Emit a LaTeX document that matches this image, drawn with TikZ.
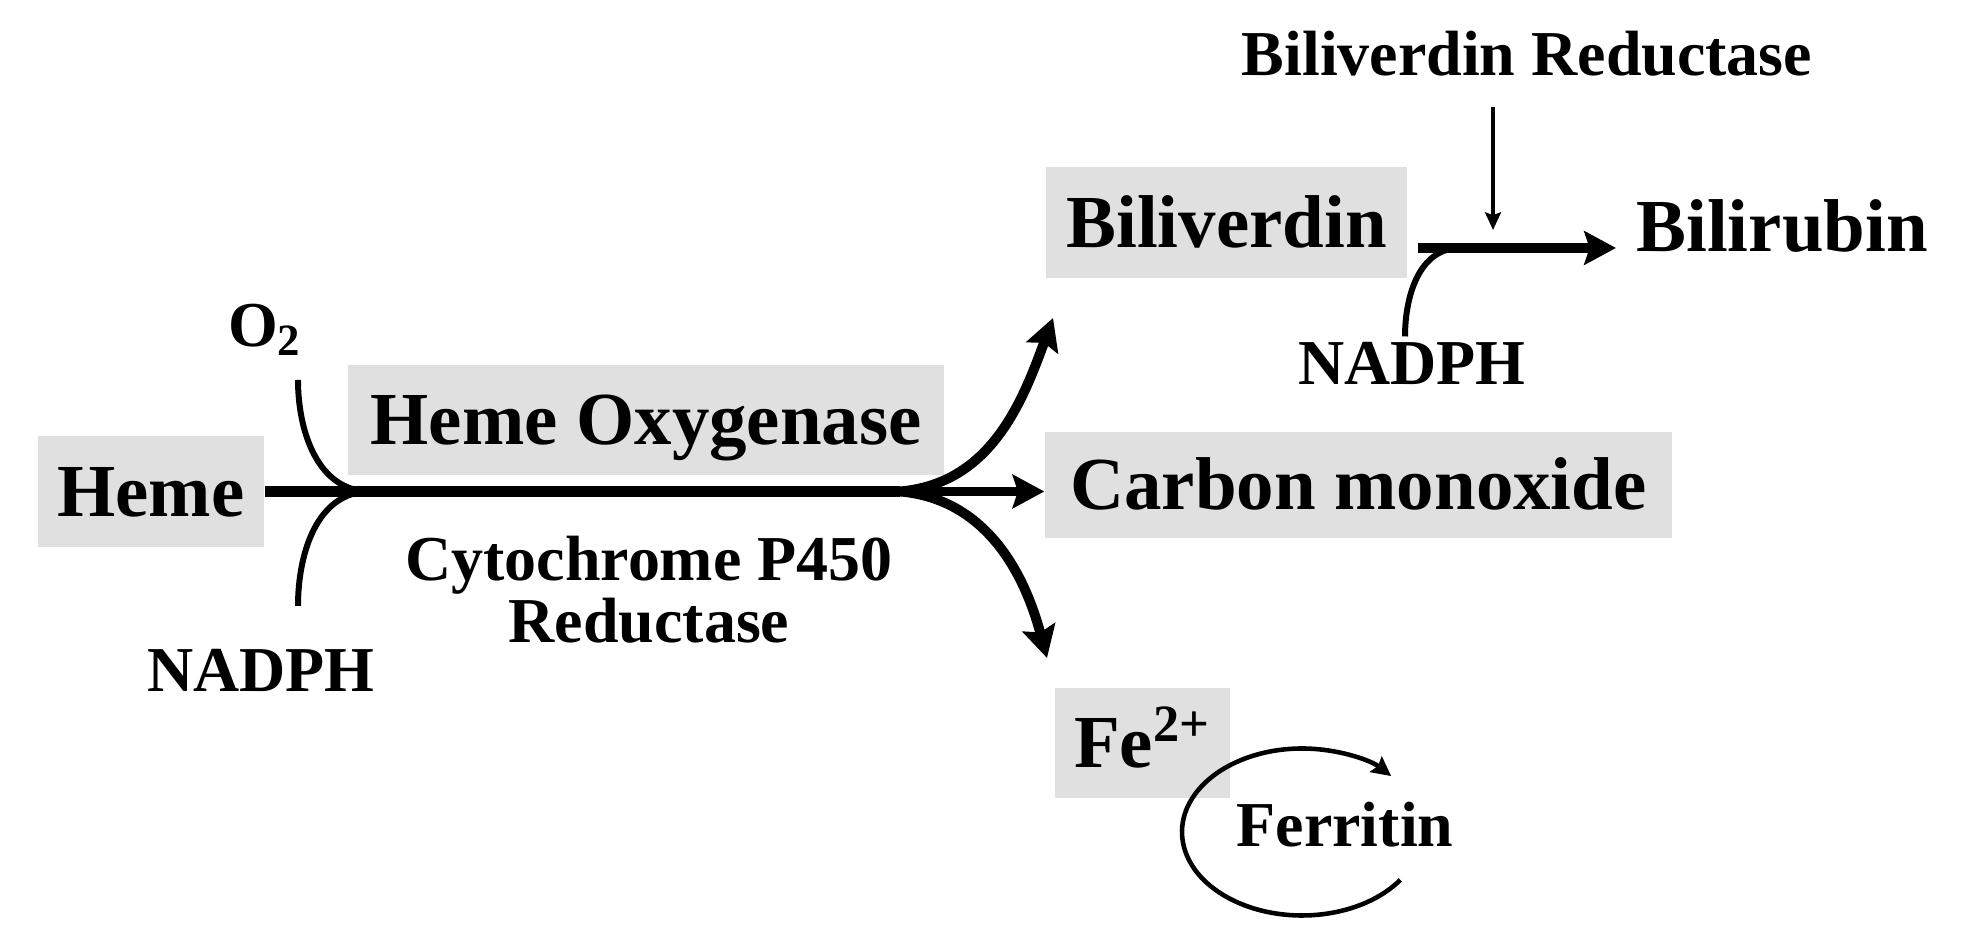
\documentclass[tikz,border=0pt]{standalone}
\usepackage{fontspec}
\setmainfont{Liberation Serif}
\usetikzlibrary{arrows.meta, positioning, calc}
\definecolor{boxgray}{RGB}{224,224,224}
\newcommand{\bigtxt}{\fontsize{21.3}{24}\selectfont\bfseries}
\newcommand{\smalltxt}{\fontsize{18.2}{17.6}\selectfont\bfseries}

\begin{document}
\begin{tikzpicture}[
  graybox/.style={fill=boxgray, font=\bigtxt, text height=14pt, text depth=0pt, inner sep=0pt},
  bigtext/.style={font=\bigtxt, text height=14pt, text depth=0pt},
  smalltext/.style={font=\smalltxt, text height=12pt, text depth=0pt},
  fatline/.style={line width=3.4pt},
  branch/.style={line width=2.8pt, -{Stealth[length=9pt,width=9.5pt,inset=1.5pt]}},
  feed/.style={line width=1.7pt},
  catarrow/.style={line width=1.1pt, -{Stealth[length=5pt,width=4.5pt,inset=0.8pt]}},
  cycarrow/.style={line width=1.3pt, -{Stealth[length=5.5pt,width=5.5pt,inset=0.8pt]}}]
\useasboundingbox (0,0) rectangle (19.61,9.28);
\node[graybox, minimum width=2.26cm, minimum height=1.11cm] (heme) at (1.51,4.365) {Heme};
\node[graybox, minimum width=5.96cm, minimum height=1.10cm] (hox) at (6.46,5.08) {Heme Oxygenase};
\node[graybox, minimum width=6.27cm, minimum height=1.06cm] (co) at (13.585,4.43) {Carbon monoxide};
\node[graybox, minimum width=3.61cm, minimum height=1.11cm] (bv) at (12.265,7.055) {Biliverdin};
\node[graybox, minimum width=1.75cm, minimum height=1.10cm] (fe) at (11.425,1.85) {Fe\textsuperscript{2+}};
\node[bigtext] (br) at (17.82,7.015) {Bilirubin};
\node[smalltext] (bvr) at (15.27,8.74) {Biliverdin Reductase};
\node[smalltext] (o2) at (2.65,6.025) {O\textsubscript{2}};
\node[smalltext] (nl) at (2.61,2.58) {NADPH};
\node[smalltext] (nr) at (14.12,5.65) {NADPH};
\node[font=\smalltxt, align=center] (cpr) at (6.49,3.38) {Cytochrome P450\\Reductase};
\node[smalltext] (fer) at (13.45,1.03) {Ferritin};

% heme oxygenase reaction
\coordinate (join) at (3.70,4.365);
\coordinate (split) at (9.0,4.365);
\coordinate (o2in) at (2.98,5.48);
\coordinate (nlin) at (2.98,3.22);
\coordinate (up) at (10.53,6.10);
\coordinate (down) at (10.47,2.70);
\draw[fatline] (heme.east) -- (split);
\draw[feed] (o2in) to[out=-90, in=180] (join);
\draw[feed] (nlin) to[out=90, in=180] (join);
\draw[branch] (split) -- (split -| co.west);
\draw[branch] (split) to[out=5, in=-110] (up);
\draw[branch] (split) to[out=-5, in=105] (down);

% biliverdin reductase
\coordinate (bvout) at ($(bv.east)+(0.10,-0.255)$);
\coordinate (nrjoin) at (14.60,6.80);
\coordinate (bvrtip) at (14.93,6.98);
\draw[branch, shorten >=0.8mm] (bvout) -- (bvout -| br.west);
\draw[feed] ([xshift=-0.7mm,yshift=-0.7mm]nr.north) to[out=90, in=180] (nrjoin);
\draw[catarrow] ($(bvrtip |- bvr.south)+(0,-0.2)$) -- (bvrtip);

% iron storage
\draw[cycarrow] ($(fer.center)+(-0.43,-0.07)+(-35:1.2 and 0.835)$) arc[start angle=-35, end angle=-318, x radius=1.2, y radius=0.835];
\end{tikzpicture}
\end{document}
